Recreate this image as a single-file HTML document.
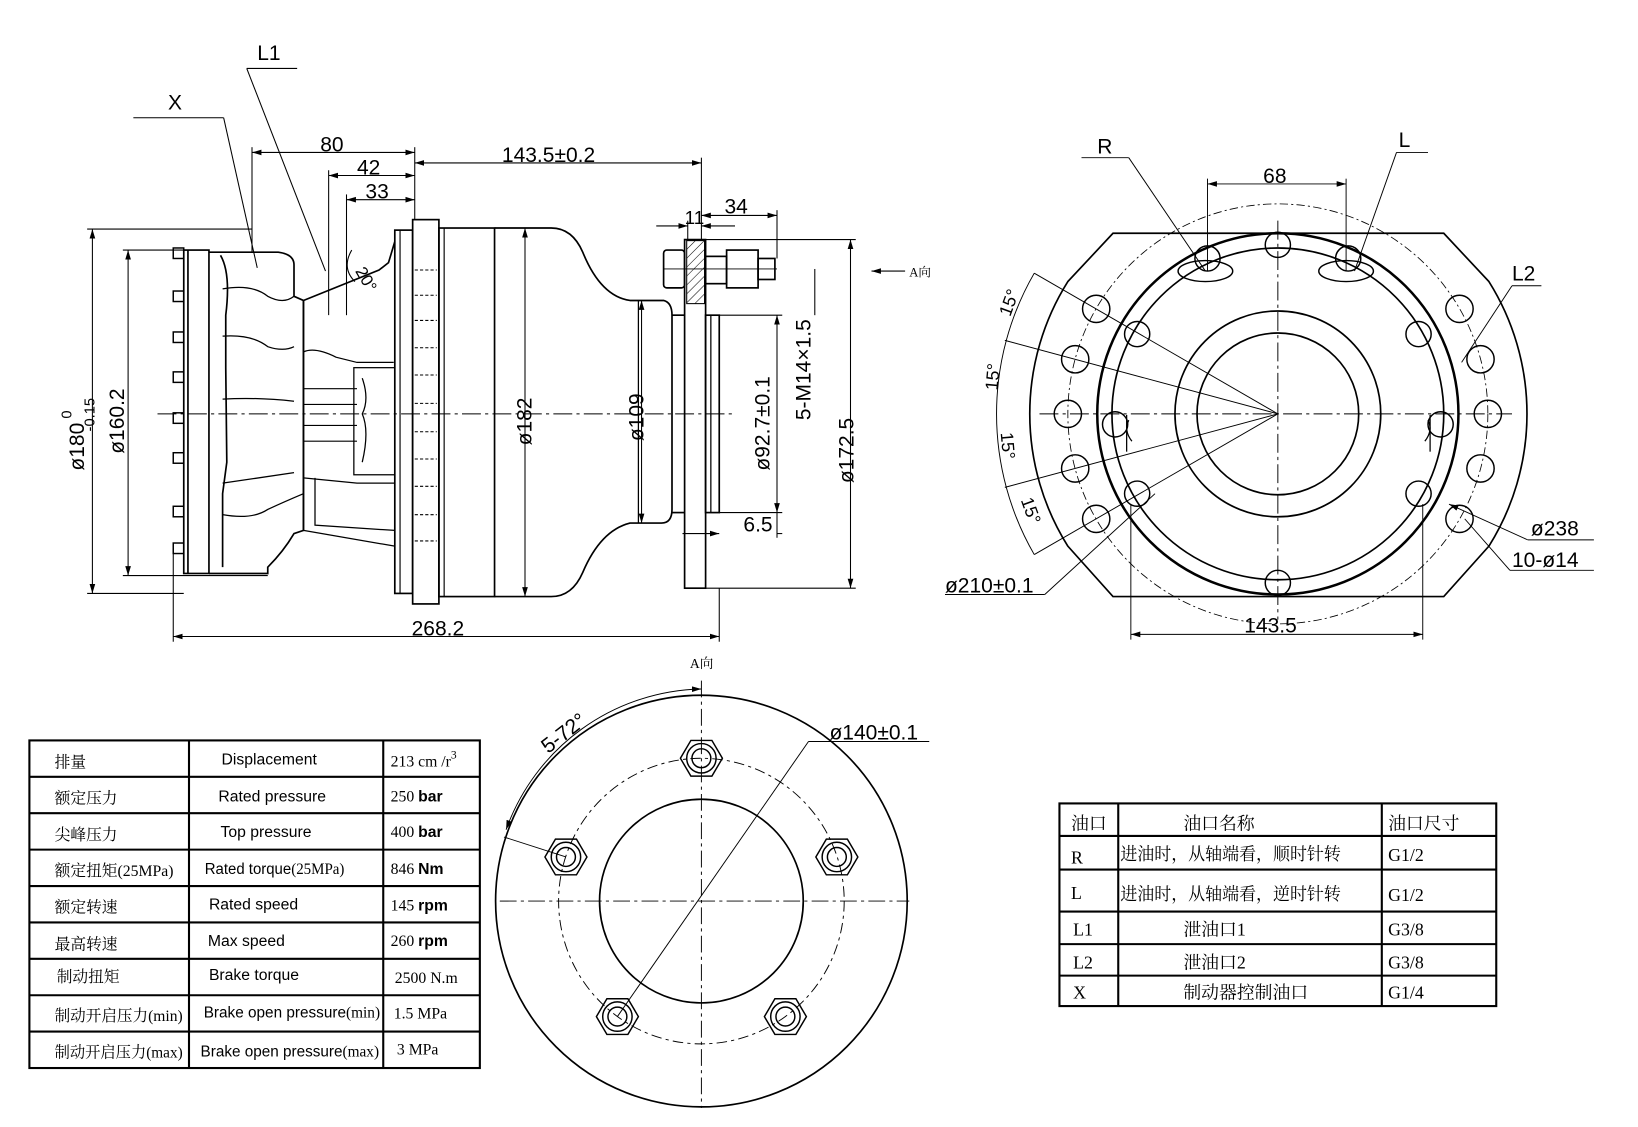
<!DOCTYPE html>
<html><head><meta charset="utf-8"><style>
html,body{margin:0;padding:0;background:#fff}
svg{display:block}
text{font-family:"Liberation Sans","Noto Sans CJK SC",sans-serif;fill:#000}
.s text, text.s, tspan.s{font-family:"Liberation Serif","Noto Serif CJK SC",serif}
</style></head><body>
<svg width="1638" height="1127" viewBox="0 0 1560 1073" xmlns="http://www.w3.org/2000/svg">
<defs>
<marker id="a" viewBox="0 0 10 10" refX="10" refY="5" markerWidth="9" markerHeight="9" orient="auto-start-reverse" markerUnits="userSpaceOnUse"><path d="M0,2 L10,5 L0,8z" fill="#000"/></marker>
<pattern id="h" width="6" height="6" patternUnits="userSpaceOnUse" patternTransform="rotate(45)"><line x1="0" y1="0" x2="0" y2="6" stroke="#000" stroke-width="1"/></pattern>
</defs>
<g fill="none" stroke="#000" stroke-width="1.6">
<line x1="150" y1="394" x2="700" y2="394" stroke-width="1" stroke-dasharray="18,4,3,4"/>
<g stroke-width="1.4">
<rect x="165" y="236" width="10" height="10"/><rect x="165" y="277" width="10" height="10"/><rect x="165" y="316" width="10" height="10"/><rect x="165" y="354" width="10" height="10"/><rect x="165" y="393" width="10" height="10"/><rect x="165" y="431" width="10" height="10"/><rect x="165" y="482" width="10" height="10"/><rect x="165" y="517" width="10" height="10"/>
</g>
<rect x="175" y="238" width="24" height="308"/>
<line x1="179" y1="238" x2="179" y2="546"/>
<path d="M199,240 L265,240 Q280,242 280,252 L280,282 L289,286 L289,505 L280,508 Q270,525 255,540 L255,546 L199,546"/>
<path d="M210,243 Q220,260 215,300 L215,350 L216,440 L212,470 L212,540"/>
<path d="M212,275 Q240,270 255,282 Q270,290 280,282" stroke-width="1.2"/>
<path d="M212,320 Q240,318 255,330 Q270,335 280,330" stroke-width="1.2"/>
<path d="M212,380 Q245,378 280,382" stroke-width="1.2"/>
<path d="M212,460 Q245,455 280,450" stroke-width="1.2"/>
<path d="M212,490 Q240,495 255,485 Q270,478 289,470" stroke-width="1.2"/>
<path d="M289,286 L361,257 L370,250 L373,240 L376,230"/>
<line x1="289" y1="286" x2="289" y2="505"/>
<path d="M289,335 Q300,330 320,340 L340,345 L375,345" stroke-width="1.2"/>
<rect x="337" y="350" width="39" height="102" stroke-width="1.2"/>
<path d="M345,360 Q352,380 345,394 Q352,410 345,440" stroke-width="1.2"/>
<line x1="289" y1="370" x2="340" y2="370" stroke-width="1.1"/><line x1="289" y1="385" x2="340" y2="385" stroke-width="1.1"/>
<line x1="289" y1="405" x2="340" y2="405" stroke-width="1.1"/><line x1="289" y1="420" x2="340" y2="420" stroke-width="1.1"/>
<path d="M289,455 L340,460 L376,460" stroke-width="1.2"/>
<path d="M300,455 L300,500 L376,505" stroke-width="1.2"/>
<line x1="289" y1="505" x2="376" y2="520" stroke-width="1.2"/>
<rect x="376" y="219" width="17" height="346"/>
<line x1="381" y1="219" x2="381" y2="565" stroke-width="1.1"/>
<rect x="393" y="209" width="25" height="366"/>
<g stroke-width="1" stroke-dasharray="3,2">
<line x1="395" y1="257" x2="416" y2="257"/><line x1="395" y1="281" x2="416" y2="281"/><line x1="395" y1="305" x2="416" y2="305"/><line x1="395" y1="331" x2="416" y2="331"/><line x1="395" y1="357" x2="416" y2="357"/><line x1="395" y1="384" x2="416" y2="384"/><line x1="395" y1="411" x2="416" y2="411"/><line x1="395" y1="437" x2="416" y2="437"/><line x1="395" y1="463" x2="416" y2="463"/><line x1="395" y1="490" x2="416" y2="490"/><line x1="395" y1="515" x2="416" y2="515"/>
</g>
<rect x="418" y="217" width="53" height="351"/>
<line x1="423" y1="217" x2="423" y2="568" stroke-width="1.1"/>
<path d="M471,217 L525,217 Q545,217 555,240 Q572,282 600,286 L632,286 Q640,288 640,300 L640,485 Q640,498 630,498 L600,498 Q572,505 555,545 Q545,568 525,568 L471,568"/>
<line x1="608" y1="286" x2="608" y2="498" stroke-width="1.2"/>
<line x1="640" y1="300" x2="652" y2="300"/><line x1="640" y1="488" x2="652" y2="488"/>
<rect x="652" y="228" width="20" height="332"/>
<rect x="654" y="229" width="17" height="60" fill="url(#h)" stroke-width="1"/>
<rect x="672" y="300" width="13" height="188"/>
<line x1="677" y1="300" x2="677" y2="488" stroke-width="1.2"/>
<rect x="632" y="238" width="20" height="36" rx="3"/>
<line x1="632" y1="256" x2="740" y2="256" stroke-width="0.8"/>
<rect x="672" y="244" width="20" height="26"/>
<rect x="692" y="238" width="30" height="36"/>
<rect x="722" y="246" width="16" height="20"/>
<g stroke-width="1">
<line x1="240" y1="145" x2="395" y2="145" marker-start="url(#a)" marker-end="url(#a)"/>
<line x1="240" y1="140" x2="240" y2="240"/><line x1="395" y1="140" x2="395" y2="209"/>
<line x1="313" y1="167" x2="395" y2="167" marker-start="url(#a)" marker-end="url(#a)"/>
<line x1="313" y1="162" x2="313" y2="300"/>
<line x1="330" y1="190" x2="395" y2="190" marker-start="url(#a)" marker-end="url(#a)"/>
<line x1="330" y1="185" x2="330" y2="300"/>
<line x1="395" y1="155" x2="668" y2="155" marker-start="url(#a)" marker-end="url(#a)"/>
<line x1="668" y1="150" x2="668" y2="228"/>
<line x1="625" y1="215" x2="655" y2="215" marker-end="url(#a)"/><line x1="700" y1="215" x2="668" y2="215" marker-end="url(#a)"/>
<line x1="655" y1="210" x2="655" y2="228"/>
<line x1="668" y1="205" x2="740" y2="205" marker-start="url(#a)" marker-end="url(#a)"/>
<line x1="740" y1="200" x2="740" y2="246"/>
<line x1="88" y1="218" x2="88" y2="565" marker-start="url(#a)" marker-end="url(#a)"/>
<line x1="83" y1="218" x2="240" y2="218"/><line x1="83" y1="565" x2="175" y2="565"/>
<line x1="122" y1="238" x2="122" y2="548" marker-start="url(#a)" marker-end="url(#a)"/>
<line x1="117" y1="238" x2="175" y2="238"/><line x1="117" y1="548" x2="255" y2="548"/>
<line x1="165" y1="606" x2="685" y2="606" marker-start="url(#a)" marker-end="url(#a)"/>
<line x1="165" y1="522" x2="165" y2="611"/><line x1="685" y1="560" x2="685" y2="611"/>
<line x1="500" y1="217" x2="500" y2="568" marker-start="url(#a)" marker-end="url(#a)"/>
<line x1="611" y1="286" x2="611" y2="498" marker-start="url(#a)" marker-end="url(#a)"/>
<line x1="740" y1="300" x2="740" y2="488" marker-start="url(#a)" marker-end="url(#a)"/>
<line x1="685" y1="300" x2="745" y2="300"/><line x1="685" y1="488" x2="745" y2="488"/>
<line x1="776" y1="256" x2="776" y2="300"/>
<line x1="810" y1="228" x2="810" y2="560" marker-start="url(#a)" marker-end="url(#a)"/>
<line x1="672" y1="228" x2="815" y2="228"/><line x1="672" y1="560" x2="815" y2="560"/>
<line x1="650" y1="508" x2="685" y2="508" marker-end="url(#a)"/><line x1="745" y1="508" x2="740" y2="508"/>
<line x1="740" y1="488" x2="740" y2="512"/>
<line x1="127" y1="112" x2="213" y2="112"/><line x1="213" y1="112" x2="245" y2="255"/>
<line x1="235" y1="65" x2="283" y2="65"/><line x1="235" y1="65" x2="310" y2="258"/>
<path d="M335,238 Q325,255 338,268"/>
<line x1="830" y1="258" x2="862" y2="258" marker-start="url(#a)"/>
</g>
</g>
<g font-size="20">
<text x="305" y="144">80</text>
<text x="340" y="166">42</text>
<text x="348" y="189">33</text>
<text x="478" y="154">143.5±0.2</text>
<text x="652" y="213" font-size="18">11</text>
<text x="690" y="203">34</text>
<text x="392" y="605">268.2</text>
<text x="708" y="506">6.5</text>
<text x="160" y="104">X</text>
<text x="245" y="57">L1</text>
<text x="338" y="258" font-size="16" transform="rotate(60 338 258)">20°</text>
<text x="866" y="263" font-size="12" class="s">A向</text>
<text transform="translate(80,448) rotate(-90)">ø180<tspan font-size="14" dy="-12">  0</tspan><tspan font-size="14" dx="-20" dy="22">-0.15</tspan></text>
<text transform="translate(118,432) rotate(-90)">ø160.2</text>
<text transform="translate(506,424) rotate(-90)">ø182</text>
<text transform="translate(613,420) rotate(-90)">ø109</text>
<text transform="translate(733,448) rotate(-90)">ø92.7±0.1</text>
<text transform="translate(772,400) rotate(-90)">5-M14×1.5</text>
<text transform="translate(813,460) rotate(-90)">ø172.5</text>
</g>

<g fill="none" stroke="#000" stroke-width="1.6">
<path d="M1060,222 L1375,222 L1418,268 A237,237 0 0 1 1418,520 L1375,568 L1060,568 L1017,520 A237,237 0 0 1 1017,268 Z"/>
<circle cx="1217" cy="394" r="172" stroke-width="2.4"/>
<circle cx="1217" cy="394" r="158"/>
<circle cx="1217" cy="394" r="98"/>
<circle cx="1217" cy="394" r="77"/>
<circle cx="1217" cy="394" r="200" stroke-width="0.8" stroke-dasharray="8,3,2,3"/>
<g stroke-width="1.4">
<circle cx="1017" cy="394" r="13"/><circle cx="1024" cy="342" r="13"/><circle cx="1044" cy="294" r="13"/><circle cx="1024" cy="446" r="13"/><circle cx="1044" cy="494" r="13"/>
<circle cx="1417" cy="394" r="13"/><circle cx="1410" cy="342" r="13"/><circle cx="1390" cy="294" r="13"/><circle cx="1410" cy="446" r="13"/><circle cx="1390" cy="494" r="13"/>
<circle cx="1217" cy="233" r="12"/><circle cx="1217" cy="555" r="12"/>
<circle cx="1083" cy="318" r="12"/><circle cx="1351" cy="318" r="12"/>
<circle cx="1083" cy="470" r="12"/><circle cx="1351" cy="470" r="12"/>
<circle cx="1062" cy="404" r="12"/><circle cx="1372" cy="404" r="12"/>
<circle cx="1150" cy="246" r="12"/><circle cx="1284" cy="246" r="12"/>
<ellipse cx="1148" cy="258" rx="26" ry="10"/><ellipse cx="1282" cy="258" rx="26" ry="10"/>
</g>
<path d="M1075,400 Q1070,410 1078,420" stroke-width="1.2"/><line x1="1073" y1="395" x2="1073" y2="430" stroke-width="1.2"/>
<path d="M1360,400 Q1365,410 1357,420" stroke-width="1.2"/><line x1="1362" y1="395" x2="1362" y2="430" stroke-width="1.2"/>
<g stroke-width="0.9">
<line x1="990" y1="394" x2="1440" y2="394" stroke-dasharray="18,4,3,4"/>
<line x1="1217" y1="210" x2="1217" y2="590" stroke-dasharray="18,4,3,4"/>
<line x1="1217" y1="394" x2="957" y2="324"/><line x1="1217" y1="394" x2="957" y2="464"/>
<line x1="1217" y1="394" x2="985" y2="260"/><line x1="1217" y1="394" x2="985" y2="528"/>
<path d="M985,260 A268,268 0 0 0 985,528"/>
<line x1="1150" y1="175" x2="1282" y2="175" marker-start="url(#a)" marker-end="url(#a)"/>
<line x1="1150" y1="170" x2="1150" y2="258"/><line x1="1282" y1="170" x2="1282" y2="258"/>
<line x1="1077" y1="604" x2="1355" y2="604" marker-start="url(#a)" marker-end="url(#a)"/>
<line x1="1077" y1="480" x2="1077" y2="609"/><line x1="1355" y1="480" x2="1355" y2="609"/>
<line x1="1030" y1="150" x2="1075" y2="150"/><line x1="1075" y1="150" x2="1148" y2="258"/>
<line x1="1330" y1="145" x2="1360" y2="145"/><line x1="1330" y1="145" x2="1290" y2="258"/>
<line x1="1440" y1="272" x2="1468" y2="272"/><line x1="1440" y1="272" x2="1392" y2="345"/>
<line x1="1380" y1="480" x2="1455" y2="514" marker-start="url(#a)"/><line x1="1455" y1="514" x2="1518" y2="514"/>
<line x1="1395" y1="494" x2="1438" y2="543"/><line x1="1438" y1="543" x2="1518" y2="543"/>
<line x1="900" y1="566" x2="995" y2="566"/><line x1="995" y1="566" x2="1100" y2="470"/>
</g>
</g>
<g font-size="20">
<text x="1203" y="174">68</text>
<text x="1185" y="602">143.5</text>
<text x="1045" y="146">R</text>
<text x="1332" y="140">L</text>
<text x="1440" y="267">L2</text>
<text x="1458" y="510">ø238</text>
<text x="1440" y="540">10-ø14</text>
<text x="900" y="564">ø210±0.1</text>
<text font-size="17" transform="translate(962,302) rotate(-70)">15°</text>
<text font-size="17" transform="translate(950,372) rotate(-85)">15°</text>
<text font-size="17" transform="translate(953,412) rotate(85)">15°</text>
<text font-size="17" transform="translate(972,476) rotate(70)">15°</text>
</g>

<g fill="none" stroke="#000" stroke-width="1.6">
<circle cx="668" cy="858" r="196"/>
<circle cx="668" cy="858" r="97"/>
<circle cx="668" cy="858" r="136" stroke-width="0.9" stroke-dasharray="10,4,3,4"/>
<line x1="476" y1="858" x2="866" y2="858" stroke-width="0.9" stroke-dasharray="16,4,3,4"/>
<line x1="668" y1="648" x2="668" y2="1055" stroke-width="0.9" stroke-dasharray="16,4,3,4"/>
<g stroke-width="1.4">
<g transform="translate(668,722)"><polygon points="20,0 10,17 -10,17 -20,0 -10,-17 10,-17"/><circle r="14"/><circle r="9"/></g>
<g transform="translate(797,816)"><polygon points="20,0 10,17 -10,17 -20,0 -10,-17 10,-17"/><circle r="14"/><circle r="9"/></g>
<g transform="translate(748,968)"><polygon points="20,0 10,17 -10,17 -20,0 -10,-17 10,-17"/><circle r="14"/><circle r="9"/></g>
<g transform="translate(588,968)"><polygon points="20,0 10,17 -10,17 -20,0 -10,-17 10,-17"/><circle r="14"/><circle r="9"/></g>
<g transform="translate(539,816)"><polygon points="20,0 10,17 -10,17 -20,0 -10,-17 10,-17"/><circle r="14"/><circle r="9"/></g>
</g>
<g stroke-width="0.9">
<line x1="588" y1="968" x2="770" y2="706"/><line x1="770" y1="706" x2="885" y2="706"/>
<path d="M668,656 A202,202 0 0 0 482,790" marker-start="url(#a)" marker-end="url(#a)"/>
<line x1="480" y1="797" x2="539" y2="816"/>
</g>
</g>
<text x="790" y="704" font-size="20">ø140±0.1</text>
<text font-size="20" transform="translate(522,718) rotate(-38)">5-72°</text>
<text x="657" y="636" font-size="13" class="s">A向</text>

<g fill="none" stroke="#000" stroke-width="2">
<rect x="28" y="705" width="429" height="312"/>
<line x1="180" y1="705" x2="180" y2="1017"/><line x1="365" y1="705" x2="365" y2="1017"/>
<line x1="28" y1="739.7" x2="457" y2="739.7"/><line x1="28" y1="774.3" x2="457" y2="774.3"/><line x1="28" y1="809" x2="457" y2="809"/><line x1="28" y1="843.7" x2="457" y2="843.7"/><line x1="28" y1="878.3" x2="457" y2="878.3"/><line x1="28" y1="913" x2="457" y2="913"/><line x1="28" y1="947.7" x2="457" y2="947.7"/><line x1="28" y1="982.3" x2="457" y2="982.3"/>
</g>
<g font-size="15">
<g class="s">
<text x="52" y="731">排量</text><text x="52" y="765">额定压力</text><text x="52" y="800">尖峰压力</text><text x="52" y="834">额定扭矩(25MPa)</text><text x="52" y="869">额定转速</text><text x="52" y="904">最高转速</text><text x="54" y="935">制动扭矩</text><text x="52" y="972" textLength="122" lengthAdjust="spacingAndGlyphs">制动开启压力(min)</text><text x="52" y="1007" textLength="122" lengthAdjust="spacingAndGlyphs">制动开启压力(max)</text>
</g>
<text x="211" y="728">Displacement</text><text x="208" y="763">Rated pressure</text><text x="210" y="797">Top pressure</text><text x="195" y="832" textLength="133" lengthAdjust="spacingAndGlyphs">Rated torque<tspan class="s">(25MPa)</tspan></text><text x="199" y="866">Rated speed</text><text x="198" y="901">Max speed</text><text x="199" y="933">Brake torque</text><text x="194" y="969" textLength="168" lengthAdjust="spacingAndGlyphs">Brake open pressure<tspan class="s">(min)</tspan></text><text x="191" y="1006" textLength="170" lengthAdjust="spacingAndGlyphs">Brake open pressure<tspan class="s">(max)</tspan></text>
<g class="s"><text x="372" y="730">213 cm /r<tspan font-size="11" dy="-8">3</tspan></text><text x="372" y="763">250 <tspan font-family="Liberation Sans" font-weight="bold">bar</tspan></text><text x="372" y="797">400 <tspan font-family="Liberation Sans" font-weight="bold">bar</tspan></text><text x="372" y="832">846 <tspan font-family="Liberation Sans" font-weight="bold">Nm</tspan></text><text x="372" y="867">145 <tspan font-family="Liberation Sans" font-weight="bold">rpm</tspan></text><text x="372" y="901">260 <tspan font-family="Liberation Sans" font-weight="bold">rpm</tspan></text><text x="376" y="936">2500 N.m</text><text x="375" y="970">1.5 MPa</text><text x="378" y="1004">3 MPa</text></g>
</g>

<g fill="none" stroke="#000" stroke-width="2">
<rect x="1009" y="765" width="416" height="193"/>
<line x1="1065" y1="765" x2="1065" y2="958"/><line x1="1316" y1="765" x2="1316" y2="958"/>
<line x1="1009" y1="796" x2="1425" y2="796"/><line x1="1009" y1="828" x2="1425" y2="828"/><line x1="1009" y1="868" x2="1425" y2="868"/><line x1="1009" y1="899" x2="1425" y2="899"/><line x1="1009" y1="929" x2="1425" y2="929"/>
</g>
<g font-size="17" class="s">
<text x="1020" y="790">油口</text><text x="1127" y="790">油口名称</text><text x="1322" y="790">油口尺寸</text>
<text x="1020" y="822">R</text><text x="1067" y="819" textLength="210" lengthAdjust="spacingAndGlyphs">进油时，从轴端看，顺时针转</text><text x="1322" y="820">G1/2</text>
<text x="1020" y="856">L</text><text x="1067" y="857" textLength="210" lengthAdjust="spacingAndGlyphs">进油时，从轴端看，逆时针转</text><text x="1322" y="858">G1/2</text>
<text x="1022" y="891">L1</text><text x="1127" y="891">泄油口1</text><text x="1322" y="891">G3/8</text>
<text x="1022" y="922">L2</text><text x="1127" y="922">泄油口2</text><text x="1322" y="922">G3/8</text>
<text x="1022" y="951">X</text><text x="1127" y="951">制动器控制油口</text><text x="1322" y="951">G1/4</text>
</g>
</svg>
</body></html>
